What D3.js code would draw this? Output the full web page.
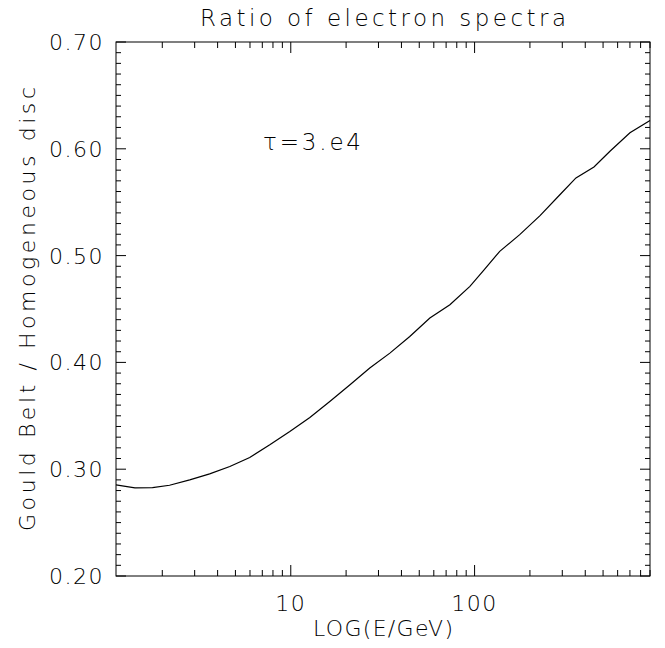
<!DOCTYPE html>
<html>
<head>
<meta charset="utf-8">
<script src="https://cdn.jsdelivr.net/npm/d3@7.9.0/dist/d3.min.js"></script>
<style>
  body { margin: 0; background: #fff; }
  svg text { font-family: "DejaVu Sans", sans-serif; font-weight: 200; fill: #000; }
</style>
</head>
<body>
<svg width="665" height="648"></svg>
<script>
// energies (GeV) and ratio
const energy = [1.12, 1.42, 1.77, 2.19, 2.82, 3.62, 4.66, 5.98, 7.69, 9.88, 12.7, 16.3, 21.0, 26.9, 34.6,
  44.4, 57.1, 73.4, 94.3, 112, 137, 176, 227, 291, 356, 446, 545, 700, 900];
const ratio = [0.2853, 0.2825, 0.2828, 0.2850, 0.2900, 0.2956, 0.3025, 0.3110, 0.3228, 0.3352, 0.3485, 0.3634, 0.3790, 0.3947, 0.4087,
  0.4243, 0.4415, 0.4540, 0.4712, 0.4862, 0.5040, 0.5196, 0.5374, 0.5570, 0.5727, 0.5830, 0.5977, 0.6150, 0.6265];

const xMajor = [10, 100];
const xMinor = [2, 3, 4, 5, 6, 7, 8, 9, 20, 30, 40, 50, 60, 70, 80, 90, 200, 300, 400, 500, 600, 700, 800, 900];
const yMajor = [0.2, 0.3, 0.4, 0.5, 0.6, 0.7];
const yMinor = d3.range(21, 70).filter(d => d % 10 !== 0).map(d => d / 100);

const titleText = 'Ratio of electron spectra';
const xLabel = 'LOG(E/GeV)';
const yLabel = 'Gould Belt / Homogeneous disc';
const note = 'τ=3.e4';

const pLeft = 116, pRight = 650, pTop = 42, pBottom = 576;

const svg = d3.select('svg');
const x = d3.scaleLog().domain([1.12, 900]).range([pLeft, pRight]);
const y = d3.scaleLinear().domain([0.2, 0.7]).range([pBottom, pTop]);

// inward ticks on all four sides
function xTicks(vals, len) {
  [[pBottom, -len], [pTop, len]].forEach(([y0, dy]) => {
    svg.append('g').selectAll('line').data(vals).join('line')
      .attr('x1', d => x(d)).attr('x2', d => x(d))
      .attr('y1', y0).attr('y2', y0 + dy)
      .attr('stroke', '#000').attr('stroke-width', 1);
  });
}
function yTicks(vals, len) {
  [[pLeft, len], [pRight, -len]].forEach(([x0, dx]) => {
    svg.append('g').selectAll('line').data(vals).join('line')
      .attr('y1', d => y(d)).attr('y2', d => y(d))
      .attr('x1', x0).attr('x2', x0 + dx)
      .attr('stroke', '#000').attr('stroke-width', 1);
  });
}
xTicks(xMinor, 6);
xTicks(xMajor, 11);
yTicks(yMinor, 5);
yTicks(yMajor, 10);

svg.append('g').selectAll('text').data(xMajor).join('text')
  .attr('x', d => x(d)).attr('y', 611)
  .attr('text-anchor', 'middle')
  .attr('font-size', 22).attr('letter-spacing', 1.5)
  .text(d3.format('d'));

svg.append('g').selectAll('text').data(yMajor).join('text')
  .attr('x', 104).attr('y', d => y(d) + 8)
  .attr('text-anchor', 'end')
  .attr('font-size', 22).attr('letter-spacing', 1.5)
  .text(d3.format('.2f'));

svg.append('rect')
  .attr('x', pLeft).attr('y', pTop)
  .attr('width', pRight - pLeft).attr('height', pBottom - pTop)
  .attr('fill', 'none').attr('stroke', '#000').attr('stroke-width', 1);

const line = d3.line().x((d, i) => x(energy[i])).y(d => y(d));
svg.append('path')
  .datum(ratio)
  .attr('d', line)
  .attr('fill', 'none')
  .attr('stroke', '#000')
  .attr('stroke-width', 1.2);

svg.append('text')
  .attr('x', 383).attr('y', 26)
  .attr('text-anchor', 'middle')
  .attr('font-size', 23)
  .attr('textLength', 366).attr('lengthAdjust', 'spacing')
  .text(titleText);

svg.append('text')
  .attr('x', 383).attr('y', 636)
  .attr('text-anchor', 'middle')
  .attr('font-size', 22)
  .attr('textLength', 140).attr('lengthAdjust', 'spacing')
  .text(xLabel);

svg.append('text')
  .attr('transform', 'translate(35,309) rotate(-90)')
  .attr('text-anchor', 'middle')
  .attr('font-size', 22)
  .attr('textLength', 444).attr('lengthAdjust', 'spacing')
  .text(yLabel);

svg.append('text')
  .attr('x', 263).attr('y', 150)
  .attr('font-size', 23)
  .attr('textLength', 98).attr('lengthAdjust', 'spacing')
  .text(note);
</script>
</body>
</html>
